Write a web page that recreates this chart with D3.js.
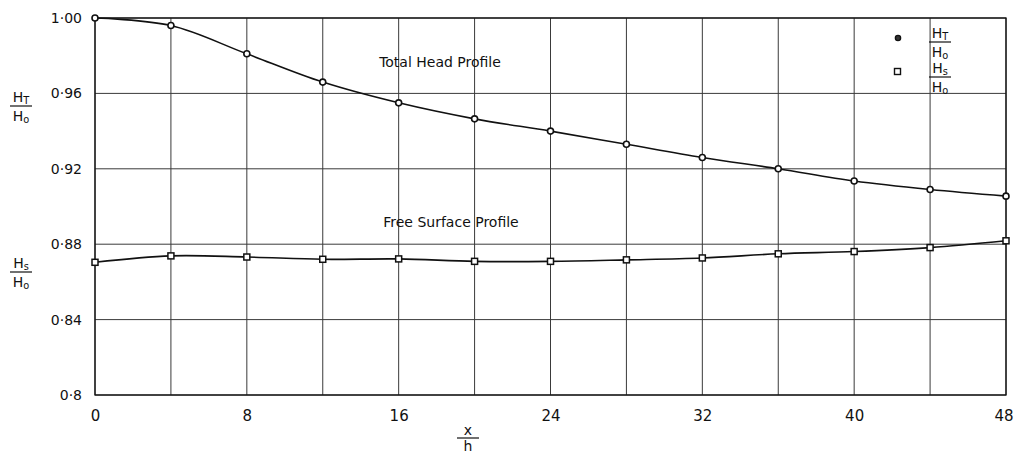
<!DOCTYPE html>
<html>
<head>
<meta charset="utf-8">
<script src="https://cdn.jsdelivr.net/npm/d3@7"></script>
<style>
  html, body { margin: 0; padding: 0; background: #fff; }
  svg { display: block; }
  text { font-family: "DejaVu Sans", "Liberation Sans", sans-serif; fill: #111; }
</style>
</head>
<body>
<svg id="chart" width="1014" height="454"></svg>
<script>
// Distance along the channel, x/h
const xPositions = [0, 4, 8, 12, 16, 20, 24, 28, 32, 36, 40, 44, 48];
// Total head ratio H_T / H_o
const totalHead = [1.000, 0.996, 0.981, 0.966, 0.955, 0.9465, 0.940, 0.933, 0.926, 0.920, 0.9135, 0.909, 0.9055];
// Free surface ratio H_s / H_o
const freeSurface = [0.8704, 0.8738, 0.8732, 0.8720, 0.8722, 0.8709, 0.8709, 0.8717, 0.8727, 0.8749, 0.8761, 0.8782, 0.8818];
// Axis ticks and labels
const xTickValues = [0, 8, 16, 24, 32, 40, 48];
const xGridValues = [0, 4, 8, 12, 16, 20, 24, 28, 32, 36, 40, 44, 48];
const yTickValues = [0.80, 0.84, 0.88, 0.92, 0.96, 1.00];
const yTickLabels = ["0·8", "0·84", "0·88", "0·92", "0·96", "1·00"];

const svg = d3.select("#chart");
const plotLeft = 95, plotRight = 1006, plotTop = 18, plotBottom = 395;

const x = d3.scaleLinear().domain([0, 48]).range([plotLeft, plotRight]);
const y = d3.scaleLinear().domain([0.80, 1.00]).range([plotBottom, plotTop]);

// Grid
const grid = svg.append("g");
grid.selectAll("line.v").data(xGridValues).join("line")
  .attr("class", "v")
  .attr("x1", d => x(d)).attr("x2", d => x(d))
  .attr("y1", plotTop).attr("y2", plotBottom)
  .attr("stroke", "#3a3a3a").attr("stroke-width", 1);
grid.selectAll("line.h").data(yTickValues).join("line")
  .attr("class", "h")
  .attr("x1", plotLeft).attr("x2", plotRight)
  .attr("y1", d => y(d)).attr("y2", d => y(d))
  .attr("stroke", "#3a3a3a").attr("stroke-width", 1);

// Frame
svg.append("rect")
  .attr("x", plotLeft).attr("y", plotTop)
  .attr("width", plotRight - plotLeft).attr("height", plotBottom - plotTop)
  .attr("fill", "none").attr("stroke", "#111").attr("stroke-width", 1.3);

// Axes (labels only; lines are the frame)
const xAxis = d3.axisBottom(x).tickValues(xTickValues).tickSize(0).tickPadding(0)
  .tickFormat(d3.format("d"));
const gx = svg.append("g").attr("transform", `translate(0,${plotBottom})`).call(xAxis);
gx.select(".domain").remove();
gx.selectAll("text").attr("dy", null).attr("y", 26)
  .style("font-size", "15px").style("font-family", "DejaVu Sans, sans-serif").attr("fill", "#111");
// keep the last label inside the page edge
gx.selectAll("text").filter(d => d === 48).attr("text-anchor", "end").attr("x", 7);

const yAxis = d3.axisLeft(y).tickValues(yTickValues).tickSize(0).tickPadding(13)
  .tickFormat((d, i) => yTickLabels[i]);
const gy = svg.append("g").attr("transform", `translate(${plotLeft},0)`).call(yAxis);
gy.select(".domain").remove();
gy.selectAll("text").style("font-size", "14px").style("font-family", "DejaVu Sans, sans-serif").attr("fill", "#111");

// Curves
const line = d3.line()
  .x(d => x(d[0])).y(d => y(d[1]))
  .curve(d3.curveCatmullRom.alpha(0.5));
const headPts = xPositions.map((d, i) => [d, totalHead[i]]);
const surfPts = xPositions.map((d, i) => [d, freeSurface[i]]);

svg.append("path").datum(headPts).attr("d", line)
  .attr("fill", "none").attr("stroke", "#111").attr("stroke-width", 1.6);
svg.append("path").datum(surfPts).attr("d", line)
  .attr("fill", "none").attr("stroke", "#111").attr("stroke-width", 1.6);

svg.append("g").selectAll("circle").data(headPts).join("circle")
  .attr("cx", d => x(d[0])).attr("cy", d => y(d[1])).attr("r", 3)
  .attr("fill", "#fff").attr("stroke", "#111").attr("stroke-width", 1.6);
svg.append("g").selectAll("rect").data(surfPts).join("rect")
  .attr("x", d => x(d[0]) - 3).attr("y", d => y(d[1]) - 3)
  .attr("width", 6).attr("height", 6)
  .attr("fill", "#fff").attr("stroke", "#111").attr("stroke-width", 1.5);

// Fraction label helper: numerator H with subscript, bar, denominator H_o
function fraction(g, cx, cy, sub, fs) {
  const num = g.append("text").attr("x", cx).attr("y", cy - 4)
    .attr("text-anchor", "middle").style("font-size", fs + "px");
  num.append("tspan").text("H");
  num.append("tspan").attr("dy", 2).style("font-size", (fs * 0.7) + "px").text(sub);
  g.append("line").attr("x1", cx - 11).attr("x2", cx + 11)
    .attr("y1", cy).attr("y2", cy).attr("stroke", "#111").attr("stroke-width", 1.2);
  const den = g.append("text").attr("x", cx).attr("y", cy + 15)
    .attr("text-anchor", "middle").style("font-size", fs + "px");
  den.append("tspan").text("H");
  den.append("tspan").attr("dy", 2).style("font-size", (fs * 0.7) + "px").text("o");
}

const labels = svg.append("g");
fraction(labels, 21, 106, "T", 14);
fraction(labels, 21, 272, "s", 14);

// Legend
labels.append("circle").attr("cx", 898).attr("cy", 38).attr("r", 2.6)
  .attr("fill", "#333").attr("stroke", "#111").attr("stroke-width", 1.4);
fraction(labels, 940, 42, "T", 14);
labels.append("rect").attr("x", 894.5).attr("y", 68.5).attr("width", 6).attr("height", 6)
  .attr("fill", "#fff").attr("stroke", "#111").attr("stroke-width", 1.4);
fraction(labels, 940, 77, "s", 14);

// x / h axis title
labels.append("text").attr("x", 468).attr("y", 435).attr("text-anchor", "middle")
  .style("font-size", "14px").text("x");
labels.append("line").attr("x1", 457).attr("x2", 479).attr("y1", 438).attr("y2", 438)
  .attr("stroke", "#111").attr("stroke-width", 1.2);
labels.append("text").attr("x", 468).attr("y", 451).attr("text-anchor", "middle")
  .style("font-size", "14px").text("h");

// Curve annotations
labels.append("text").attr("x", 440).attr("y", 67).attr("text-anchor", "middle")
  .style("font-size", "14px").text("Total Head Profile");
labels.append("text").attr("x", 451).attr("y", 227).attr("text-anchor", "middle")
  .style("font-size", "14px").text("Free Surface Profile");
</script>
</body>
</html>
